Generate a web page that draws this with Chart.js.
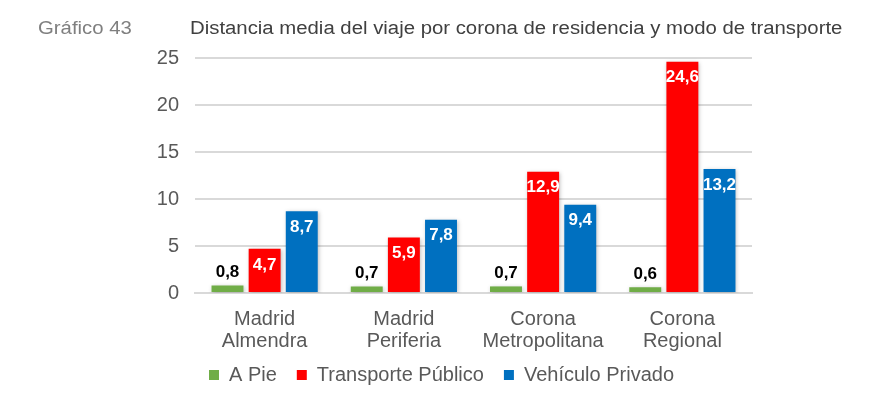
<!DOCTYPE html>
<html>
<head>
<meta charset="utf-8">
<script src="https://cdn.jsdelivr.net/npm/chart.js@4.4.1/dist/chart.umd.min.js"></script>
<style>
  body { margin: 0; background: #fff; }
  #wrap { position: relative; width: 883px; height: 398px; font-family: 'Liberation Sans', Arial, sans-serif; }
  #num, #title { position: absolute; top: 18px; font-size: 18px; transform: scaleX(1.13); transform-origin: left top; white-space: nowrap; }
  #num { left: 38px; color: #7f7f7f; }
  #title { left: 190px; color: #404040; }
  canvas { position: absolute; left: 0; top: 0; }
</style>
</head>
<body>
<div id="wrap">
  <canvas id="chart" width="883" height="398"></canvas>
  <div id="num">Gráfico 43</div>
  <div id="title">Distancia media del viaje por corona de residencia y modo de transporte</div>
</div>
<script>
var CATEGORIES = [['Madrid', 'Almendra'], ['Madrid', 'Periferia'], ['Corona', 'Metropolitana'], ['Corona', 'Regional']];
var A_PIE = [0.8, 0.7, 0.7, 0.6];
var TRANSPORTE_PUBLICO = [4.7, 5.9, 12.9, 24.6];
var VEHICULO_PRIVADO = [8.7, 7.8, 9.4, 13.2];
var Y_TICKS = [0, 5, 10, 15, 20, 25];

var COLORS = {
	green: '#70AD47',
	red: '#FF0000',
	blue: '#0070C0'
};

var FONT = '"Liberation Sans", Arial, sans-serif';

var fmt = function (v) {
	return v.toFixed(1).replace('.', ',');
};

// sombra suave de las barras, como en el original
var barShadow = {
	id: 'barShadow',
	beforeDatasetsDraw: function (chart) {
		var ctx = chart.ctx;
		ctx.save();
		ctx.shadowColor = 'rgba(0,0,0,0.25)';
		ctx.shadowBlur = 4;
		ctx.shadowOffsetX = 1;
		ctx.shadowOffsetY = 1;
	},
	afterDatasetsDraw: function (chart) {
		chart.ctx.restore();
	}
};

// etiquetas de valor
var valueLabels = {
	id: 'valueLabels',
	afterDatasetsDraw: function (chart) {
		var ctx = chart.ctx;
		ctx.save();
		ctx.font = 'bold 17px ' + FONT;
		ctx.textAlign = 'center';
		ctx.textBaseline = 'middle';
		chart.data.datasets.forEach(function (ds, i) {
			chart.getDatasetMeta(i).data.forEach(function (bar, j) {
				var v = ds.data[j];
				if (i === 0) {
					ctx.fillStyle = '#000';
					ctx.fillText(fmt(v), bar.x, bar.y - 13);
				} else {
					ctx.fillStyle = '#fff';
					ctx.fillText(fmt(v), bar.x, bar.y + 16);
				}
			});
		});
		ctx.restore();
	}
};

// leyenda centrada en todo el lienzo; etiquetas del eje x sin recortar
var layoutFix = {
	id: 'layoutFix',
	afterLayout: function (chart) {
		chart.legend.left = 0;
		chart.legend.right = chart.width;
		chart.legend.width = chart.width;
		chart.scales.x.bottom += 14;
	}
};

var chartData = {
	labels: CATEGORIES,
	datasets: [{
		label: 'A Pie',
		data: A_PIE,
		backgroundColor: COLORS.green
	}, {
		label: 'Transporte Público',
		data: TRANSPORTE_PUBLICO,
		backgroundColor: COLORS.red
	}, {
		label: 'Vehículo Privado',
		data: VEHICULO_PRIVADO,
		backgroundColor: COLORS.blue
	}]
};

var chartOptions = {
	responsive: false,
	animation: false,
	datasets: {
		bar: {
			categoryPercentage: 0.8,
			barPercentage: 0.86
		}
	},
	layout: {
		padding: { left: 0, right: 131, top: 58, bottom: 3 }
	},
	scales: {
		x: {
			grid: { display: false },
			border: { color: '#d9d9d9', width: 2 },
			ticks: {
				color: '#595959',
				font: { family: FONT, size: 20, lineHeight: 1.1 },
				padding: 7
			},
			afterFit: function (axis) { axis.height = 52; }
		},
		y: {
			min: 0,
			max: 25,
			afterBuildTicks: function (axis) {
				axis.ticks = Y_TICKS.map(function (v) { return { value: v }; });
			},
			grid: { color: '#d9d9d9', lineWidth: 2, drawTicks: false },
			border: { display: false },
			ticks: {
				color: '#595959',
				font: { family: FONT, size: 20 },
				padding: 16
			},
			afterFit: function (axis) { axis.width = 195; }
		}
	},
	plugins: {
		legend: {
			position: 'bottom',
			labels: {
				boxWidth: 10,
				boxHeight: 10,
				padding: 20,
				color: '#595959',
				font: { family: FONT, size: 20 }
			}
		},
		tooltip: { enabled: false }
	}
};

var chartCtx = document.getElementById('chart');

var chart = new Chart(chartCtx, {
	type: 'bar',
	data: chartData,
	options: chartOptions,
	plugins: [barShadow, valueLabels, layoutFix]
});
</script>
</body>
</html>
